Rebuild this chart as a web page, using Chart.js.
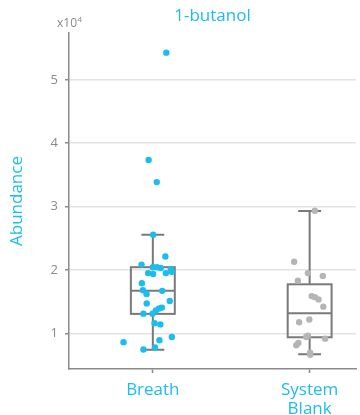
<!DOCTYPE html>
<html>
<head>
<meta charset="utf-8">
<script src="https://cdn.jsdelivr.net/npm/chart.js@4"></script>
<style>
  html, body { margin: 0; padding: 0; background: #ffffff; }
  #wrap { width: 360px; height: 415px; }
</style>
</head>
<body>
<div id="wrap"><canvas id="c" width="360" height="415"></canvas></div>
<script>
// Groups on the x axis
const categories = ['Breath', ['System', 'Blank']];
const groupPositions = [1, 2];

// Abundance of 1-butanol for each breath sample (x = jittered group position)
const breathX = [1.086, 0.973, 1.025, 1.002, 1.080, 0.928, 1.000, 1.026, 1.050, 1.115,
                 1.121, 0.970, 1.002, 1.083, 0.930, 0.937, 0.960, 1.060, 0.961, 1.108,
                 0.940, 0.998, 1.019, 1.040, 1.058, 1.011, 1.048, 1.121, 1.042, 0.813,
                 1.014, 0.940];
const breathY = [54300, 37350, 33860, 25560, 22110, 20840, 20430, 20430, 20300, 20100,
                 19700, 19500, 19350, 19500, 17900, 16800, 16200, 16700, 14700, 15100,
                 13100, 13100, 13600, 13900, 14050, 11600, 11400, 9400, 8900, 8600,
                 7750, 7450];

// Abundance for each system blank
const blankX = [2.033, 1.901, 1.989, 2.084, 1.925, 2.013, 2.033, 2.057, 2.087, 1.933,
                1.998, 1.989, 1.978, 2.099, 1.928, 1.915, 2.003, 2.004];
const blankY = [29350, 21300, 19500, 19050, 18300, 15870, 15700, 15350, 14200, 11750,
                12170, 9600, 9400, 9150, 8460, 8100, 6950, 6600];

// Box statistics per group: lower whisker, Q1, median, Q3, upper whisker
const whiskerLow  = [7410, 6670];
const quartile1   = [13060, 9370];
const medians     = [16710, 13170];
const quartile3   = [20430, 17730];
const whiskerHigh = [25560, 29320];

// Y axis tick values
const yTicks = [10000, 20000, 30000, 40000, 50000];

const BLUE = '#1bbdf0';
const AXIS_GREY = '#8a8a8a';
const FONT = '"Open Sans", "DejaVu Sans", sans-serif';

const boxPlot = {
  id: 'boxPlot',
  beforeDatasetsDraw(chart) {
    const { ctx, scales: { x, y } } = chart;
    ctx.save();
    ctx.strokeStyle = '#7a7a7a';
    ctx.lineWidth = 2;
    groupPositions.forEach((pos, i) => {
      const cx = x.getPixelForValue(pos);
      const bl = x.getPixelForValue(pos - 0.14);
      const br = x.getPixelForValue(pos + 0.14);
      const cl = x.getPixelForValue(pos - 0.073);
      const cr = x.getPixelForValue(pos + 0.073);
      const yq1 = y.getPixelForValue(quartile1[i]);
      const yq3 = y.getPixelForValue(quartile3[i]);
      const ym = y.getPixelForValue(medians[i]);
      const ylo = y.getPixelForValue(whiskerLow[i]);
      const yhi = y.getPixelForValue(whiskerHigh[i]);
      ctx.beginPath();
      // whiskers
      ctx.moveTo(cx, yq3); ctx.lineTo(cx, yhi);
      ctx.moveTo(cl, yhi); ctx.lineTo(cr, yhi);
      ctx.moveTo(cx, yq1); ctx.lineTo(cx, ylo);
      ctx.moveTo(cl, ylo); ctx.lineTo(cr, ylo);
      // median
      ctx.moveTo(bl, ym); ctx.lineTo(br, ym);
      ctx.stroke();
      ctx.strokeRect(bl, yq3, br - bl, yq1 - yq3);
    });
    ctx.restore();
  }
};

const headings = {
  id: 'headings',
  afterDraw(chart) {
    const { ctx, chartArea } = chart;
    ctx.save();
    ctx.fillStyle = BLUE;
    ctx.font = '17px ' + FONT;
    ctx.textAlign = 'center';
    ctx.textBaseline = 'middle';
    ctx.fillText('1-butanol', (chartArea.left + chartArea.right) / 2, 16);
    // exponent marker for the y axis
    ctx.fillStyle = AXIS_GREY;
    ctx.textAlign = 'left';
    ctx.font = '12px ' + FONT;
    ctx.fillText('x10', 57, 24);
    const w = ctx.measureText('x10').width;
    ctx.font = '8px ' + FONT;
    ctx.fillText('4', 57 + w + 0.5, 20);
    ctx.restore();
  }
};

new Chart(document.getElementById('c'), {
  type: 'scatter',
  data: {
    datasets: [
      {
        label: 'Breath',
        data: breathX.map((v, i) => ({ x: v, y: breathY[i] })),
        backgroundColor: BLUE,
        borderWidth: 0,
        pointRadius: 3.2
      },
      {
        label: 'System Blank',
        data: blankX.map((v, i) => ({ x: v, y: blankY[i] })),
        backgroundColor: '#b5b5b5',
        borderWidth: 0,
        pointRadius: 3.2
      }
    ]
  },
  options: {
    responsive: false,
    animation: false,
    devicePixelRatio: 1,
    layout: { padding: { top: 33, left: 0, right: 0, bottom: 0 } },
    plugins: {
      legend: { display: false },
      tooltip: { enabled: false }
    },
    scales: {
      x: {
        type: 'linear',
        min: 0.4654,
        max: 2.2956,
        afterFit(scale) { scale.height = 46; },
        afterBuildTicks(scale) { scale.ticks = groupPositions.map(v => ({ value: v })); },
        ticks: {
          color: BLUE,
          font: { family: FONT, size: 17, lineHeight: 1.12 },
          padding: 8,
          maxRotation: 0,
          autoSkip: false,
          callback: (v) => categories[groupPositions.indexOf(v)]
        },
        grid: { drawOnChartArea: false, tickLength: 4, tickColor: AXIS_GREY, tickWidth: 1.5 },
        border: { color: AXIS_GREY, width: 1.5 }
      },
      y: {
        min: 4360,
        max: 57400,
        afterFit(scale) { scale.width = 69; },
        afterBuildTicks(scale) { scale.ticks = yTicks.map(v => ({ value: v })); },
        ticks: {
          color: AXIS_GREY,
          font: { family: FONT, size: 13 },
          padding: 7,
          callback: (v) => String(v / 10000)
        },
        grid: { color: '#e3e3e3', lineWidth: 1.5, tickLength: 4, tickColor: AXIS_GREY, tickWidth: 1.5 },
        border: { color: AXIS_GREY, width: 1.5 },
        title: {
          display: true,
          text: 'Abundance',
          color: BLUE,
          font: { family: FONT, size: 17 },
          padding: { top: 7, bottom: 0 }
        }
      }
    }
  },
  plugins: [boxPlot, headings]
});
</script>
</body>
</html>
